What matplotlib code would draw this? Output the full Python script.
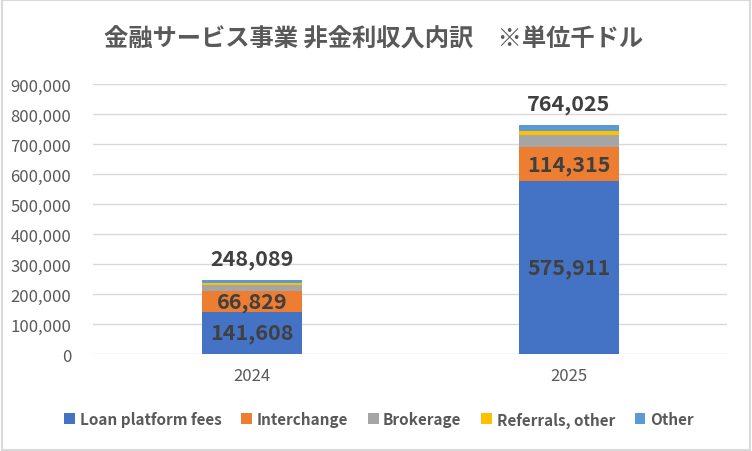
import matplotlib.pyplot as plt
from matplotlib.ticker import FuncFormatter

plt.rcParams['font.family'] = ['Noto Sans CJK JP', 'DejaVu Sans']

years = ['2024', '2025']
loan_fees = [141608, 575911]
interchange = [66829, 114315]
brokerage = [22000, 41000]
referrals = [5500, 13000]
other = [12152, 19799]
totals = [248089, 764025]

series = [
    ('Loan platform fees', loan_fees, '#4472C4'),
    ('Interchange', interchange, '#ED7D31'),
    ('Brokerage', brokerage, '#A5A5A5'),
    ('Referrals, other', referrals, '#FFC000'),
    ('Other', other, '#5B9BD5'),
]

fig = plt.figure(figsize=(7.52, 4.52), dpi=100)
ax = fig.add_axes([0.124, 0.2146, 0.843, 0.5974])

x = range(len(years))
bottom = [0, 0]
for name, vals, color in series:
    ax.bar(x, vals, 0.315, bottom=bottom, color=color, label=name, zorder=3)
    bottom = [b + v for b, v in zip(bottom, vals)]

# segment labels for the two big series
base = [0, 0]
for vals in (loan_fees, interchange):
    for i, v in enumerate(vals):
        ax.text(i, base[i] + v / 2, f'{v:,}', ha='center', va='center',
                fontsize=15.5, fontweight='bold', color='#404040', zorder=4)
    base = [b + v for b, v in zip(base, vals)]

for i, t in enumerate(totals):
    ax.text(i, t + 36000, f'{t:,}', ha='center', va='bottom',
            fontsize=15.5, fontweight='bold', color='#404040')

ax.set_xlim(-0.5, 1.5)
ax.set_ylim(0, 900000)
ax.set_yticks(range(0, 900001, 100000))
ax.yaxis.set_major_formatter(FuncFormatter(lambda v, p: f'{int(v):,}'))
ax.set_xticks(list(x))
ax.set_xticklabels(years)
ax.tick_params(axis='both', length=0, labelsize=12, colors='#595959')
ax.tick_params(axis='y', pad=16)
ax.tick_params(axis='x', pad=9)
ax.grid(axis='y', color='#D9D9D9', linewidth=1, zorder=0)
for s in ax.spines.values():
    s.set_visible(False)

fig.text(0.497, 0.912, '金融サービス事業 非金利収入内訳　※単位千ドル', ha='center', va='center',
         fontsize=17.5, fontweight='bold', color='#595959')

ax.legend(loc='center', bbox_to_anchor=(0.504, 0.07), bbox_transform=fig.transFigure,
          ncol=5, frameon=False, handlelength=0.7, handleheight=0.7,
          handletextpad=0.3, columnspacing=1.3, labelcolor='#595959',
          prop={'size': 11, 'weight': 'bold'})

border = plt.Rectangle((0.002, 0.002), 0.996, 0.996, transform=fig.transFigure,
                       fill=False, edgecolor='#D9D9D9', linewidth=1.5)
fig.patches.append(border)

fig.savefig('out.png', dpi=100)
